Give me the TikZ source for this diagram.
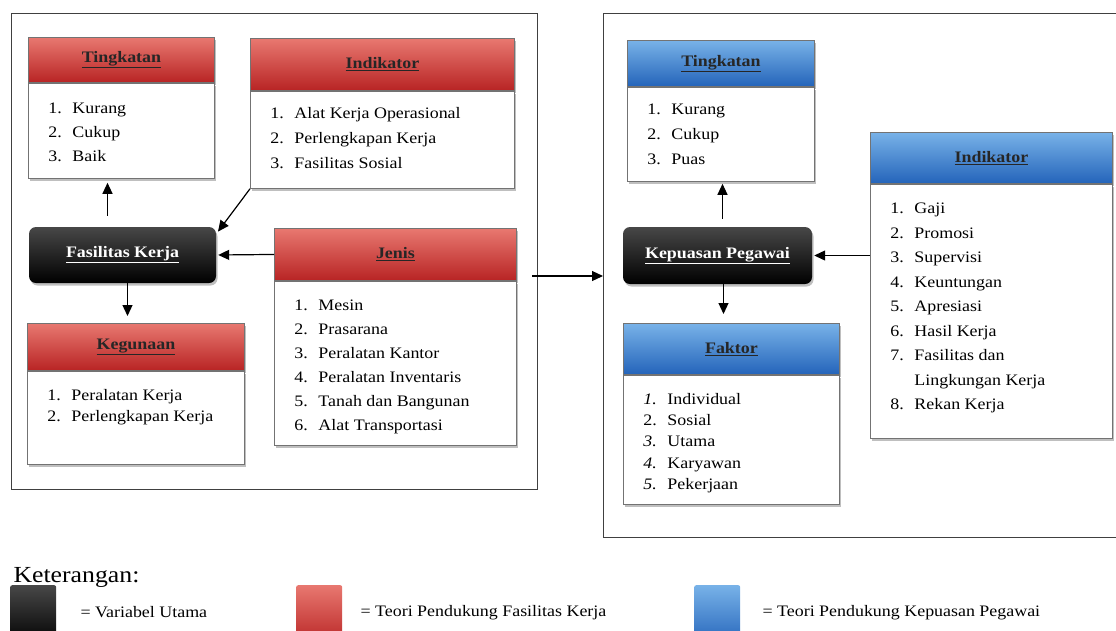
\documentclass[tikz,border=0pt]{standalone}
\usepackage{fontspec}
\setmainfont{Liberation Serif}[FakeStretch=1.12]
\usetikzlibrary{positioning, shadows, arrows.meta}

\definecolor{redtop}{RGB}{232,120,112}
\definecolor{redmid}{RGB}{208,58,54}
\definecolor{redbot}{RGB}{184,36,36}
\definecolor{bluetop}{RGB}{120,178,232}
\definecolor{bluemid}{RGB}{62,134,212}
\definecolor{bluebot}{RGB}{36,100,186}

% width, height, line spacing, top gap, rows
\newcommand{\boxitems}[5]{\parbox[c][#2pt][t]{#1pt}{\vspace*{#4pt}\fontsize{16}{#3}\selectfont
    \begin{tabular}{@{\hspace{20pt}}p{24pt}@{}l@{}}#5\end{tabular}}}

\tikzset{
    frame/.style={draw=black!75, line width=1.3pt},
    hdr/.style={draw=black!55, line width=0.9pt, anchor=north west, inner sep=0pt,
        font=\fontsize{16}{19}\bfseries, text=black!85,
        drop shadow={shadow xshift=1.5pt, shadow yshift=-2.5pt, opacity=.5}},
    hdrred/.style={hdr, top color=redtop, middle color=redmid, bottom color=redbot},
    hdrblue/.style={hdr, top color=bluetop, middle color=bluemid, bottom color=bluebot},
    lstbox/.style={draw=black!55, line width=0.9pt, fill=white, inner sep=0pt,
        drop shadow={shadow xshift=1.5pt, shadow yshift=-2.5pt, opacity=.5}},
    mainvar/.style={rounded corners=7pt, top color=black!72, middle color=black!95, bottom color=black,
        text=white, font=\fontsize{16}{19}\bfseries, inner sep=0pt,
        drop shadow={shadow xshift=1.5pt, shadow yshift=-2.5pt, opacity=.5}},
    swatch/.style={rounded corners=2pt, anchor=north west, minimum width=46pt, minimum height=60pt, inner sep=0pt},
    link/.style={-{Triangle[width=10pt,length=11pt]}, line width=1.2pt}
}

\begin{document}
\begin{tikzpicture}[x=1pt, y=-1pt]
    \useasboundingbox (0,0) rectangle (1116,630);

    \node[frame, anchor=north west, minimum width=526pt, minimum height=476pt] (frameL) at (11,13) {};
    \node[frame, anchor=north west, minimum width=520pt, minimum height=524pt] (frameR) at (603,13) {};

    % Fasilitas Kerja
    \node[hdrred, minimum width=186pt, minimum height=45pt] (tingL) at (28,37) {\underline{Tingkatan}};
    \node[lstbox, below=0pt of tingL] (tingLb) {\boxitems{186}{95}{24}{13}{1. & Kurang\\ 2. & Cukup\\ 3. & Baik}};

    \node[hdrred, minimum width=264pt, minimum height=52pt] (indL) at (250,38) {\underline{Indikator}};
    \node[lstbox, below=0pt of indL] (indLb) {\boxitems{264}{97}{25}{10}{1. & Alat Kerja Operasional\\ 2. & Perlengkapan Kerja\\ 3. & Fasilitas Sosial}};

    \node[mainvar, minimum width=187pt, minimum height=56pt] (fasL) at (122.5,255) {\underline{Fasilitas Kerja}};

    \node[hdrred, minimum width=242pt, minimum height=52pt] (jenisL) at (274,228) {\underline{Jenis}};
    \node[lstbox, below=0pt of jenisL] (jenisLb) {\boxitems{242}{164}{24}{12}{1. & Mesin\\ 2. & Prasarana\\ 3. & Peralatan Kantor\\
        4. & Peralatan Inventaris\\ 5. & Tanah dan Bangunan\\ 6. & Alat Transportasi}};

    \node[hdrred, minimum width=217pt, minimum height=47pt] (gunaL) at (27,323) {\underline{Kegunaan}};
    \node[lstbox, below=0pt of gunaL] (gunaLb) {\boxitems{217}{93}{21.5}{14}{1. & Peralatan Kerja\\ 2. & Perlengkapan Kerja}};

    % Kepuasan Pegawai
    \node[hdrblue, minimum width=187pt, minimum height=46pt] (tingR) at (627,40) {\underline{Tingkatan}};
    \node[lstbox, below=0pt of tingR] (tingRb) {\boxitems{187}{94}{25}{10}{1. & Kurang\\ 2. & Cukup\\ 3. & Puas}};

    \node[mainvar, minimum width=189pt, minimum height=57pt] (kepR) at (717.5,255.5) {\underline{Kepuasan Pegawai}};

    \node[hdrblue, minimum width=242pt, minimum height=51pt] (indR) at (870,132) {\underline{Indikator}};
    \node[lstbox, below=0pt of indR] (indRb) {\boxitems{242}{254}{24.5}{12}{1. & Gaji\\ 2. & Promosi\\ 3. & Supervisi\\ 4. & Keuntungan\\
        5. & Apresiasi\\ 6. & Hasil Kerja\\ 7. & Fasilitas dan\\ & Lingkungan Kerja\\ 8. & Rekan Kerja}};

    \node[hdrblue, minimum width=216pt, minimum height=51pt] (faktR) at (623,323) {\underline{Faktor}};
    \node[lstbox, below=0pt of faktR] (faktRb) {\boxitems{216}{129}{21.3}{14}{\textit{1.} & Individual\\ 2. & Sosial\\ \textit{3.} & Utama\\
        \textit{4.} & Karyawan\\ \textit{5.} & Pekerjaan}};

    % arrows
    \draw[link, shorten <=11pt, shorten >=4pt] ([xshift=-15pt]fasL.north) -- ([xshift=-15pt]fasL.north |- tingLb.south);
    \draw[link, shorten >=7pt] ([xshift=5pt]fasL.south) -- ([xshift=5pt]fasL.south |- gunaL.north);
    \draw[link, shorten >=3pt] (indLb.south west) -- ([yshift=21pt]fasL.east);
    \draw[link, shorten >=2pt] (jenisL.west) -- (fasL.east);

    \draw[link, shorten <=8pt, shorten >=2pt] ([xshift=5pt]kepR.north) -- ([xshift=5pt]kepR.north |- tingRb.south);
    \draw[link, shorten >=9pt] ([xshift=6pt]kepR.south) -- ([xshift=6pt]kepR.south |- faktR.north);
    \draw[link, shorten >=2pt] (indRb.west |- kepR.east) -- (kepR.east);

    \coordinate (lnk) at (532,276);
    \draw[link] (lnk) -- (lnk -| frameR.west);

    % legend
    \node[anchor=base west, font=\fontsize{23}{26}\selectfont] (ket) at (10,582) {Keterangan:};
    \node[swatch, top color=black!72, middle color=black!95, bottom color=black] (swBlack) at (10,585) {};
    \node[swatch, top color=redtop, middle color=redmid, bottom color=redbot] (swRed) at (296,585) {};
    \node[swatch, top color=bluetop, middle color=bluemid, bottom color=bluebot] (swBlue) at (694,585) {};
    \node[right=24pt of swBlack, yshift=3pt, inner sep=0pt, font=\fontsize{16}{19}\selectfont] (txBlack) {= Variabel Utama};
    \node[right=18pt of swRed, yshift=3pt, inner sep=0pt, font=\fontsize{16}{19}\selectfont] (txRed) {= Teori Pendukung Fasilitas Kerja};
    \node[right=22pt of swBlue, yshift=3pt, inner sep=0pt, font=\fontsize{16}{19}\selectfont] (txBlue) {= Teori Pendukung Kepuasan Pegawai};
\end{tikzpicture}
\end{document}
